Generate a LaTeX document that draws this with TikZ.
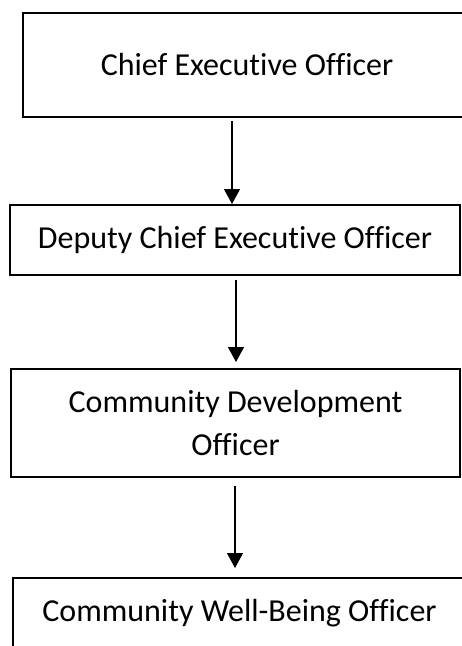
\documentclass[tikz,border=0pt]{standalone}
\usepackage{fontspec}
\setmainfont[Ligatures=NoCommon]{Carlito}
\usetikzlibrary{arrows.meta}

\begin{document}
\begin{tikzpicture}
    [   x = 1pt
    ,   y = -1pt
    ,   > = {Triangle[length=15pt,width=16pt]}
    ,   office/.style =
        {   draw
        ,   rectangle
        ,   line width = 2pt
        ,   inner sep = 0pt
        ,   align = center
        ,   font = \fontsize{32}{43}\selectfont
        }
    ,   link/.style = {->, line width = 1.3pt}
    ]
    \useasboundingbox (0,0) rectangle (462,646);
    \clip (0,0) rectangle (462,646);
    \node[office, minimum width=448pt, minimum height=104pt] (CEO)  at (247,65)    {Chief Executive Officer};
    \node[office, minimum width=450pt, minimum height=70pt]  (DCEO) at (235,240)   {Deputy Chief Executive Officer};
    \node[office, minimum width=449pt, minimum height=108pt] (CDO)  at (235.5,423) {Community Development\\Officer};
    \node[office, minimum width=453pt, minimum height=70pt]  (CWO)  at (239.5,613) {Community Well-Being Officer};

    \draw[link] ([xshift=-15pt,yshift=-3pt]CEO.south) -- ([xshift=-3pt]DCEO.north);
    \draw[link] ([xshift=1pt,yshift=-4pt]DCEO.south) -- ([xshift=0.5pt,yshift=6pt]CDO.north);
    \draw[link] ([xshift=-0.5pt,yshift=-8pt]CDO.south) -- ([xshift=-4.5pt,yshift=9pt]CWO.north);

\end{tikzpicture}
\end{document}
